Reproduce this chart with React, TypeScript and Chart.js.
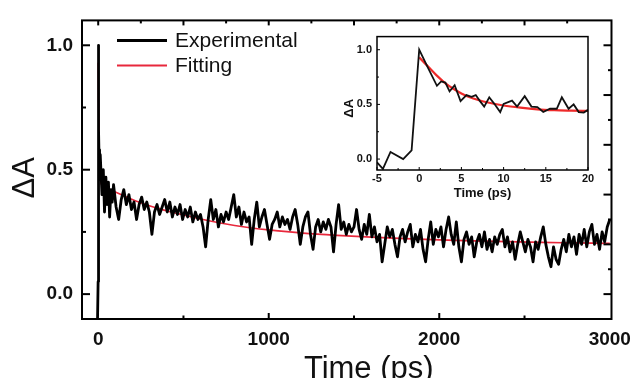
import { useEffect, useRef } from "react";
import { Chart, registerables } from "chart.js";

Chart.register(...registerables);

// ---------- main panel data ----------
const expTime = [
  -5, -0.5, 0, 1, 2, 3, 4, 5, 6, 8, 10, 12,
  15, 22, 30, 37, 45, 52, 60, 67, 75, 82, 90,
  105, 120, 135, 150,
  165, 180, 195, 210, 225, 240, 255, 270, 285, 300,
  315, 330, 345, 360, 375, 390, 405, 420, 435, 450,
  465, 480, 495, 510, 525, 540, 555, 570, 585, 600,
  615, 630, 645, 660, 675, 690, 705, 720, 735, 750,
  765, 780, 795, 810, 825, 840, 855, 870, 885, 900,
  915, 930, 945, 960, 975, 990, 1005, 1020, 1035, 1050,
  1065, 1080, 1095, 1110, 1125, 1140, 1155, 1170, 1185, 1200,
  1215, 1230, 1245, 1260, 1275, 1290, 1305, 1320, 1335, 1350,
  1365, 1380, 1395, 1410, 1425, 1440, 1455, 1470, 1485, 1500,
  1515, 1530, 1545, 1560, 1575, 1590, 1605, 1620, 1635, 1650,
  1665, 1680, 1695, 1710, 1725, 1740, 1755, 1770, 1785, 1800,
  1815, 1830, 1845, 1860, 1875, 1890, 1905, 1920, 1935, 1950,
  1965, 1980, 1995, 2010, 2025, 2040, 2055, 2070, 2085, 2100,
  2115, 2130, 2145, 2160, 2175, 2190, 2205, 2220, 2235, 2250,
  2265, 2280, 2295, 2310, 2325, 2340, 2355, 2370, 2385, 2400,
  2415, 2430, 2445, 2460, 2475, 2490, 2505, 2520, 2535, 2550,
  2565, 2580, 2595, 2610, 2625, 2640, 2655, 2670, 2685, 2700,
  2715, 2730, 2745, 2760, 2775, 2790, 2805, 2820, 2835, 2850,
  2865, 2880, 2895, 2910, 2925, 2940, 2955, 2970, 2985, 3000,
];
const expValue = [
  -0.15, 0.05, 1.0, 0.84, 0.67, 0.7, 0.66, 0.55, 0.58, 0.53, 0.5, 0.56,
  0.56, 0.4, 0.5, 0.33, 0.47, 0.36, 0.45, 0.31, 0.42, 0.37, 0.44,
  0.35, 0.3, 0.38, 0.42,
  0.36, 0.4, 0.34, 0.37, 0.3, 0.36, 0.39, 0.34, 0.37, 0.33,
  0.24, 0.33, 0.36, 0.32, 0.35, 0.38, 0.33, 0.37, 0.31, 0.35,
  0.32, 0.36, 0.3, 0.34, 0.31, 0.35, 0.29, 0.33, 0.3, 0.32,
  0.27, 0.19, 0.3, 0.38, 0.3, 0.34, 0.27, 0.32, 0.29, 0.33,
  0.3, 0.35, 0.4, 0.31, 0.35, 0.28, 0.33, 0.29, 0.31, 0.2,
  0.3, 0.37, 0.27, 0.31, 0.34, 0.28, 0.22, 0.28, 0.3, 0.33,
  0.27, 0.31, 0.28, 0.3, 0.26, 0.31, 0.34, 0.28, 0.2, 0.27,
  0.31, 0.33, 0.24, 0.18, 0.27, 0.3, 0.25, 0.29, 0.26, 0.3,
  0.27, 0.17, 0.28, 0.36, 0.26, 0.29, 0.24, 0.28, 0.25, 0.27,
  0.34, 0.26, 0.22, 0.28, 0.24, 0.32, 0.23, 0.27, 0.21, 0.24,
  0.13, 0.2, 0.27, 0.23, 0.26, 0.2, 0.15, 0.23, 0.26, 0.21,
  0.25, 0.28, 0.19, 0.24, 0.21, 0.26, 0.18, 0.13, 0.22, 0.29,
  0.2, 0.26, 0.23, 0.27, 0.19, 0.26, 0.31, 0.24, 0.2, 0.29,
  0.19, 0.13, 0.22, 0.25, 0.2, 0.23, 0.15, 0.21, 0.24, 0.19,
  0.25, 0.18, 0.22, 0.17, 0.23, 0.2, 0.24, 0.26, 0.19, 0.23,
  0.17, 0.21, 0.14, 0.2, 0.25, 0.21, 0.17, 0.22, 0.19, 0.13,
  0.21, 0.18, 0.23, 0.27, 0.2, 0.15, 0.11, 0.19, 0.14, 0.12,
  0.18, 0.22, 0.17, 0.24, 0.19, 0.23, 0.16, 0.24, 0.2, 0.26,
  0.19, 0.25, 0.28, 0.2, 0.24, 0.18, 0.25, 0.21, 0.27, 0.3,
];
const fitTime = [0, 2, 5, 10, 20, 40, 70, 100, 150, 200, 250, 300, 350, 400, 500, 600, 700, 800, 900, 1000, 1200, 1400, 1600, 1800, 2000, 2200, 2400, 2600, 2800, 3000];
const fitValue = [0.93, 0.77, 0.6, 0.49, 0.44, 0.43, 0.42, 0.41, 0.395, 0.38, 0.367, 0.355, 0.345, 0.335, 0.318, 0.302, 0.288, 0.276, 0.266, 0.258, 0.245, 0.236, 0.229, 0.223, 0.218, 0.214, 0.211, 0.208, 0.206, 0.204];

const mainXLabels = [0, 1000, 2000, 3000];
const mainYLabels = [0, 0.5, 1.0];
const mainBottomMarks = [500, 1000, 1500, 2000, 2500];
const mainTopMarks = [0, 250, 500, 750, 1000, 1250, 1500, 1750, 2000, 2250, 2500, 2750];
const mainLeftMarks = [0, 0.25, 0.5, 0.75, 1.0];
const mainRightMarks = [0, 0.1, 0.2, 0.3, 0.4, 0.5, 0.6, 0.7, 0.8, 0.9, 1.0];

// ---------- inset data ----------
const insetTime = [-5, -4.3, -3.4, -1.9, -0.9, 0, 1, 2.1, 2.6, 3.1, 3.6, 4.2, 4.9, 5.6, 6.2, 6.7, 7.2, 7.7, 8.3, 8.9, 9.6, 10.0, 11.0, 11.6, 12.5, 13.3, 14.0, 14.7, 15.5, 16.3, 16.9, 17.7, 18.3, 18.9, 19.5, 20];
const insetValue = [-0.03, -0.09, 0.065, 0.0, 0.08, 1.0, 0.84, 0.67, 0.71, 0.7, 0.62, 0.675, 0.53, 0.585, 0.57, 0.585, 0.53, 0.48, 0.565, 0.505, 0.43, 0.505, 0.535, 0.48, 0.575, 0.48, 0.475, 0.43, 0.46, 0.46, 0.565, 0.46, 0.5, 0.43, 0.425, 0.45];
const insetFitTime = [0, 1, 2, 3, 4, 5, 6, 7, 8, 10, 12, 14, 16, 18, 20];
const insetFitValue = [0.93, 0.85, 0.77, 0.7, 0.645, 0.6, 0.565, 0.54, 0.52, 0.49, 0.47, 0.455, 0.447, 0.443, 0.44];
const insetXLabels = [-5, 0, 5, 10, 15, 20];
const insetYLabels = [0, 0.5, 1.0];
const insetXMarks = [-5, -2.5, 0, 2.5, 5, 7.5, 10, 12.5, 15, 17.5, 20];
const insetYMarks = [0, 0.25, 0.5, 0.75, 1.0];

const FONT = "'Liberation Sans', Arial, Helvetica, sans-serif";
const RED = "#e8283c";

type Side = "bottom" | "top" | "left" | "right";
type MarkSpec = { axis: string; side: Side; values: number[]; isMajor: (v: number) => boolean; major: number; minor: number };

const toPoints = (xs: number[], ys: number[]) => xs.map((x, i) => ({ x, y: ys[i] }));

function framePlugin(specs: MarkSpec[], frameWidth: number, tickWidth: number) {
  return {
    id: "frameTicks",
    afterDraw(chart: any) {
      const { ctx, chartArea: a, scales } = chart;
      ctx.save();
      ctx.strokeStyle = "#000";
      ctx.lineWidth = tickWidth;
      specs.forEach((s) => {
        const sc = scales[s.axis];
        s.values.forEach((v) => {
          const p = sc.getPixelForValue(v);
          const len = s.isMajor(v) ? s.major : s.minor;
          ctx.beginPath();
          if (s.side === "bottom") { ctx.moveTo(p, a.bottom); ctx.lineTo(p, a.bottom - len); }
          if (s.side === "top") { ctx.moveTo(p, a.top); ctx.lineTo(p, a.top + len); }
          if (s.side === "left") { ctx.moveTo(a.left, p); ctx.lineTo(a.left + len, p); }
          if (s.side === "right") { ctx.moveTo(a.right, p); ctx.lineTo(a.right - len, p); }
          ctx.stroke();
        });
      });
      ctx.lineWidth = frameWidth;
      ctx.strokeRect(a.left, a.top, a.right - a.left, a.bottom - a.top);
      ctx.restore();
    },
  };
}

function titlePlugin(opts: { xTitle: string; yTitle: string; font: string; xDx: number; xDy: number; yDx: number; yDy: number }) {
  return {
    id: "titles",
    afterDraw(chart: any) {
      const { ctx, chartArea: a } = chart;
      ctx.save();
      ctx.fillStyle = "#111";
      ctx.font = opts.font;
      ctx.textAlign = "center";
      ctx.textBaseline = "alphabetic";
      ctx.fillText(opts.xTitle, (a.left + a.right) / 2 + opts.xDx, a.bottom + opts.xDy);
      ctx.translate(a.left + opts.yDx, (a.top + a.bottom) / 2 + opts.yDy);
      ctx.rotate(-Math.PI / 2);
      ctx.textBaseline = "middle";
      ctx.fillText(opts.yTitle, 0, 0);
      ctx.restore();
    },
  };
}

const legendPlugin = {
  id: "insideLegend",
  afterDraw(chart: any) {
    const { ctx, chartArea: a } = chart;
    const items = chart.data.datasets.map((d: any) => ({ label: d.label, color: d.borderColor }));
    ctx.save();
    ctx.font = `21px ${FONT}`;
    ctx.textBaseline = "middle";
    ctx.textAlign = "left";
    items.forEach((it: any, i: number) => {
      const y = a.top + 20 + i * 25;
      ctx.strokeStyle = it.color;
      ctx.lineWidth = i === 0 ? 3 : 2;
      ctx.beginPath();
      ctx.moveTo(a.left + 35, y);
      ctx.lineTo(a.left + 85, y);
      ctx.stroke();
      ctx.fillStyle = "#111";
      ctx.fillText(it.label, a.left + 93, y + 1);
    });
    ctx.restore();
  },
};

export default function App() {
  const mainRef = useRef<HTMLCanvasElement>(null);
  const insetRef = useRef<HTMLCanvasElement>(null);

  useEffect(() => {
    document.body.style.margin = "0";
    document.body.style.background = "#fff";

    const main = new Chart(mainRef.current!, {
      type: "scatter",
      data: {
        datasets: [
          { label: "Experimental", data: toPoints(expTime, expValue), showLine: true, borderColor: "#000", backgroundColor: "#000", borderWidth: 2.8, pointRadius: 0, borderJoinStyle: "round" } as any,
          { label: "Fitting", data: toPoints(fitTime, fitValue), showLine: true, borderColor: RED, backgroundColor: RED, borderWidth: 1.6, pointRadius: 0, cubicInterpolationMode: "monotone" } as any,
        ],
      },
      options: {
        animation: false,
        responsive: false,
        events: [],
        layout: { padding: { top: 15, right: 25, left: 0, bottom: 0 } },
        plugins: { legend: { display: false }, tooltip: { enabled: false } },
        scales: {
          x: {
            type: "linear",
            min: -95,
            max: 3010,
            afterBuildTicks: (s: any) => { s.ticks = mainXLabels.map((v) => ({ value: v })); },
            afterFit: (s: any) => { s.height = 59; },
            grid: { display: false, drawTicks: false },
            border: { display: false },
            ticks: { padding: 9, color: "#111", font: { family: FONT, size: 19, weight: "bold" }, maxRotation: 0, autoSkip: false, callback: (v: any) => String(v) },
          },
          y: {
            type: "linear",
            min: -0.1,
            max: 1.1,
            afterBuildTicks: (s: any) => { s.ticks = mainYLabels.map((v) => ({ value: v })); },
            afterFit: (s: any) => { s.width = 82; },
            grid: { display: false, drawTicks: false },
            border: { display: false },
            ticks: { padding: 9, color: "#111", font: { family: FONT, size: 19, weight: "bold" }, callback: (v: any) => Number(v).toFixed(1) },
          },
        },
      } as any,
      plugins: [
        framePlugin([
          { axis: "x", side: "bottom", values: mainBottomMarks, isMajor: (v) => v % 1000 === 0, major: 6, minor: 3.5 },
          { axis: "x", side: "top", values: mainTopMarks, isMajor: (v) => v % 500 === 0, major: 5, minor: 3 },
          { axis: "y", side: "left", values: mainLeftMarks, isMajor: (v) => Math.round(v * 100) % 50 === 0, major: 8, minor: 4 },
          { axis: "y", side: "right", values: mainRightMarks, isMajor: (v) => Math.round(v * 10) % 2 === 0, major: 8, minor: 3.5 },
        ], 2, 2),
        titlePlugin({ xTitle: "Time (ps)", yTitle: "ΔA", font: `31px ${FONT}`, xDx: 22, xDy: 59, yDx: -57, yDy: 8 }),
        legendPlugin,
      ],
    });

    const inset = new Chart(insetRef.current!, {
      type: "scatter",
      data: {
        datasets: [
          { label: "Experimental", data: toPoints(insetTime, insetValue), showLine: true, borderColor: "#111", borderWidth: 1.8, pointRadius: 0 } as any,
          { label: "Fitting", data: toPoints(insetFitTime, insetFitValue), showLine: true, borderColor: "#ee2a2a", borderWidth: 2.2, pointRadius: 0, cubicInterpolationMode: "monotone" } as any,
        ],
      },
      options: {
        animation: false,
        responsive: false,
        events: [],
        layout: { padding: { top: 8, right: 12, left: 0, bottom: 0 } },
        plugins: { legend: { display: false }, tooltip: { enabled: false } },
        scales: {
          x: {
            type: "linear",
            min: -5,
            max: 20,
            afterBuildTicks: (s: any) => { s.ticks = insetXLabels.map((v) => ({ value: v })); },
            afterFit: (s: any) => { s.height = 30; },
            grid: { display: false, drawTicks: false },
            border: { display: false },
            ticks: { padding: 2, color: "#111", font: { family: FONT, size: 11, weight: "bold" }, maxRotation: 0, autoSkip: false, callback: (v: any) => String(v) },
          },
          y: {
            type: "linear",
            min: -0.1,
            max: 1.12,
            afterBuildTicks: (s: any) => { s.ticks = insetYLabels.map((v) => ({ value: v })); },
            afterFit: (s: any) => { s.width = 42; },
            grid: { display: false, drawTicks: false },
            border: { display: false },
            ticks: { padding: 5, color: "#111", font: { family: FONT, size: 11, weight: "bold" }, callback: (v: any) => Number(v).toFixed(1) },
          },
        },
      } as any,
      plugins: [
        framePlugin([
          { axis: "x", side: "bottom", values: insetXMarks, isMajor: (v) => v % 5 === 0, major: 3, minor: 2 },
          { axis: "y", side: "left", values: insetYMarks, isMajor: (v) => Math.round(v * 100) % 50 === 0, major: 3, minor: 2 },
        ], 1.5, 1),
        titlePlugin({ xTitle: "Time (ps)", yTitle: "ΔA", font: `bold 13px ${FONT}`, xDx: 0, xDy: 27, yDx: -28, yDy: 5 }),
      ],
    });

    return () => {
      main.destroy();
      inset.destroy();
    };
  }, []);

  return (
    <div style={{ position: "relative", width: 640, height: 378, background: "#fff", overflow: "hidden" }}>
      <canvas ref={mainRef} width={640} height={378} style={{ position: "absolute", left: 0, top: 0, width: 640, height: 378 }} />
      <canvas ref={insetRef} width={265} height={175} style={{ position: "absolute", left: 335, top: 25, width: 265, height: 175 }} />
    </div>
  );
}
